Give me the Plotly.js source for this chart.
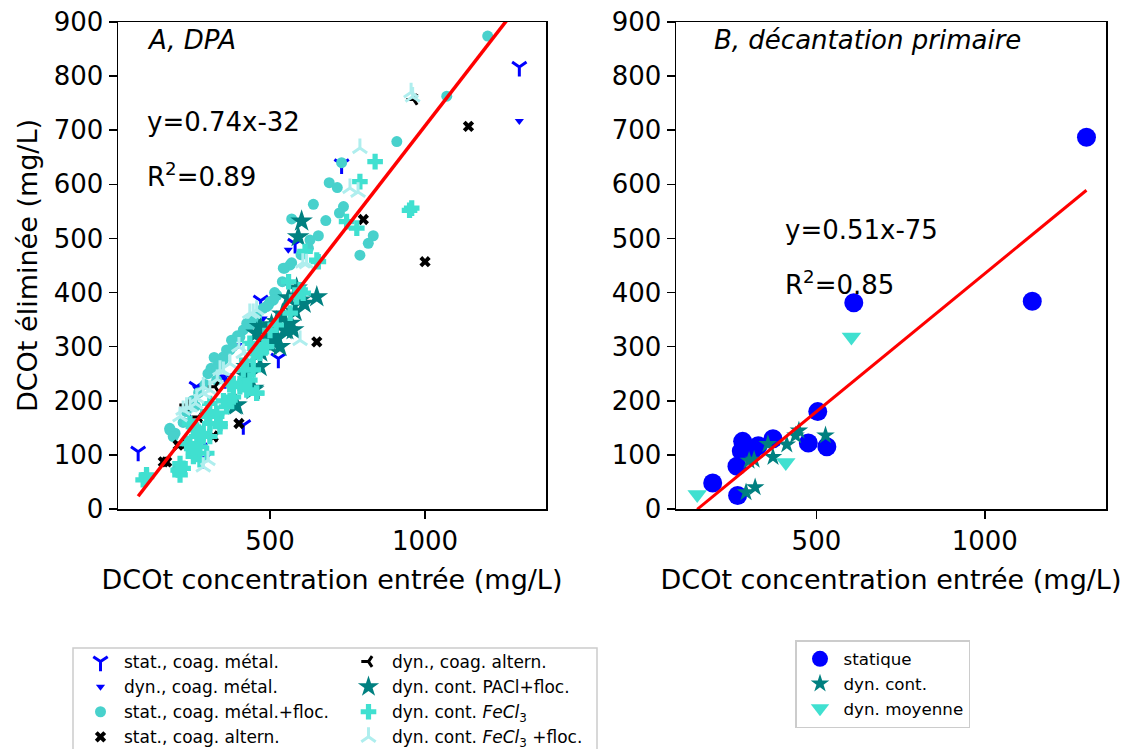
<!DOCTYPE html>
<html>
<head>
<meta charset="utf-8">
<script src="https://cdn.plot.ly/plotly-3.0.1.min.js"></script>
<style>html,body{margin:0;padding:0;background:#fff;}#chart{width:1123px;height:749px;}</style>
</head>
<body>
<div id="chart"></div>
<script>
// ---------- Panel A : DPA ----------
const statMetalX = [75, 283, 274, 414, 527, 470, 581, 731, 1304, 355, 240, 263];
const statMetalY = [106, 92, 112, 155, 278, 385, 490, 637, 817, 240, 180, 226];

const dynMetalX = [1304, 559, 478, 398, 349, 263, 258, 285, 300];
const dynMetalY = [717, 479, 352, 303, 245, 223, 143, 94, 180];

const statFlocX = [1202, 1070, 909, 731, 691, 717, 640, 737, 724, 570, 680, 656, 629, 624, 833, 817, 790, 570, 548, 565, 543, 522, 500, 495, 478, 457, 435, 414, 376, 360, 349, 333, 328, 177, 194, 199, 215, 300, 310, 290, 270, 250, 230, 320, 395, 340, 260, 220, 380, 450, 515, 540, 600, 511, 489, 425, 403, 371, 349, 328, 177, 188];
const statFlocY = [874, 763, 679, 640, 603, 594, 563, 559, 547, 536, 533, 505, 497, 482, 505, 491, 469, 455, 445, 451, 445, 395, 383, 377, 371, 355, 340, 331, 312, 294, 281, 266, 238, 149, 140, 72, 69, 250, 260, 230, 215, 200, 180, 280, 320, 275, 190, 160, 300, 350, 400, 420, 470, 386, 374, 343, 318, 294, 275, 257, 146, 134];

const statAlternX = [1140, 1000, 801, 651, 400, 204, 167, 317, 156];
const statAlternY = [707, 457, 535, 309, 158, 118, 87, 134, 87];

const dynAlternX = [963, 323, 231, 317, 215, 270];
const dynAlternY = [757, 226, 192, 134, 122, 170];

const paclX = [602, 591, 651, 586, 597, 581, 565, 548, 522, 500, 489, 522, 575, 532, 457, 468, 425, 446, 392, 425, 540, 505, 480, 560, 610, 470, 510, 554, 522, 489, 468, 446, 387, 425];
const paclY = [532, 503, 392, 408, 386, 365, 343, 331, 315, 303, 325, 346, 331, 300, 325, 337, 263, 223, 192, 245, 360, 340, 310, 390, 380, 290, 330, 331, 318, 312, 263, 220, 192, 251];

const fecl3X = [839, 790, 957, 950, 747, 780, 613, 656, 651, 607, 425, 446, 414, 457, 425, 382, 360, 328, 306, 285, 264, 274, 296, 253, 220, 210, 102, 91, 435, 468, 403, 339, 253, 306, 231, 242, 520, 560, 500, 480, 370, 350, 300, 296, 328, 264, 242, 285, 339, 371, 403, 435, 457, 446, 468, 489, 382, 306, 210, 204, 274, 253, 586, 565, 597, 102];
const fecl3Y = [642, 605, 556, 552, 531, 519, 476, 457, 460, 399, 275, 281, 257, 214, 220, 207, 189, 171, 158, 140, 134, 115, 103, 97, 75, 63, 60, 54, 306, 294, 232, 158, 152, 134, 121, 158, 340, 420, 330, 300, 230, 200, 180, 171, 177, 146, 121, 134, 152, 201, 226, 238, 214, 257, 288, 300, 232, 195, 84, 72, 91, 106, 392, 362, 405, 63];

const fecl3FlocX = [955, 960, 790, 758, 784, 606, 618, 597, 306, 285, 264, 242, 220, 371, 435, 457, 285, 300, 330, 350, 260, 400, 446, 414, 339, 285, 231, 210];
const fecl3FlocY = [770, 762, 667, 593, 586, 455, 454, 312, 220, 214, 205, 189, 183, 269, 362, 368, 78, 90, 240, 255, 195, 300, 362, 288, 257, 226, 189, 171];

const fitA = {slope: 0.74, intercept: -32};

// ---------- Panel B : décantation primaire ----------
const statiqueX = [1302, 1141, 611, 504, 476, 531, 371, 327, 281, 277, 264, 266, 192, 310];
const statiqueY = [687, 384, 381, 180, 122, 115, 130, 117, 125, 107, 79, 25, 48, 108];

const dynContX = [527, 448, 438, 412, 356, 371, 315, 300, 318, 291];
const dynContY = [136, 145, 136, 119, 120, 96, 91, 89, 40, 31];

const dynMoyX = [604, 409, 146];
const dynMoyY = [318, 86, 27];

const fitB = {slope: 0.51, intercept: -75};

// ---------- texts ----------
const xTitle = 'DCOt concentration entrée (mg/L)';
const yTitle = 'DCOt éliminée (mg/L)';
const yTicks = [0, 100, 200, 300, 400, 500, 600, 700, 800, 900];
const xTicks = [500, 1000];

const FONT = 'DejaVu Sans, Liberation Sans, sans-serif';

function fitLine(xsList, fit) {
  const all = [].concat(...xsList);
  const xmin = Math.min(...all), xmax = Math.max(...all);
  return {x: [xmin, xmax], y: [fit.slope * xmin + fit.intercept, fit.slope * xmax + fit.intercept]};
}

function sym(x, y, name, symbol, color, size, legend, xa, ya, lineOnly) {
  const m = {symbol: symbol, size: size, color: color};
  if (lineOnly) { m.line = {color: color, width: 3}; }
  else { m.line = {width: 0}; }
  return {type: 'scatter', mode: 'markers', x: x, y: y, name: name, marker: m,
          legend: legend, xaxis: xa, yaxis: ya, cliponaxis: true};
}

const lA = fitLine([statMetalX, dynMetalX, statFlocX, statAlternX, dynAlternX, paclX, fecl3X, fecl3FlocX], fitA);
const lB = fitLine([statiqueX, dynContX, dynMoyX], fitB);

const traces = [
  sym(statMetalX, statMetalY, 'stat., coag. métal.', 'y-down', '#0000ff', 12, 'legend', 'x', 'y', true),
  sym(dynMetalX, dynMetalY, 'dyn., coag. métal.', 'triangle-down', '#0000ff', 8, 'legend', 'x', 'y', false),
  sym(statFlocX, statFlocY, 'stat., coag. métal.+floc.', 'circle', '#48d1cc', 11, 'legend', 'x', 'y', false),
  sym(statAlternX, statAlternY, 'stat., coag. altern.', 'x', '#000000', 10, 'legend', 'x', 'y', false),
  sym(dynAlternX, dynAlternY, 'dyn., coag. altern.', 'y-left', '#000000', 9, 'legend2', 'x', 'y', true),
  sym(paclX, paclY, 'dyn. cont. PACl+floc.', 'star', '#008080', 17, 'legend2', 'x', 'y', false),
  sym(fecl3X, fecl3Y, 'dyn. cont. <i>FeCl</i><sub>3</sub>', 'cross', '#40e0d0', 13, 'legend2', 'x', 'y', false),
  sym(fecl3FlocX, fecl3FlocY, 'dyn. cont. <i>FeCl</i><sub>3</sub> +floc.', 'y-up', '#afeeee', 12, 'legend2', 'x', 'y', true),
  {type: 'scatter', mode: 'lines', x: lA.x, y: lA.y, line: {color: '#ff0000', width: 3.5}, showlegend: false, xaxis: 'x', yaxis: 'y', hoverinfo: 'skip'},
  sym(statiqueX, statiqueY, 'statique', 'circle', '#0000ff', 19, 'legend3', 'x2', 'y2', false),
  sym(dynContX, dynContY, 'dyn. cont.', 'star', '#008080', 14, 'legend3', 'x2', 'y2', false),
  sym(dynMoyX, dynMoyY, 'dyn. moyenne', 'triangle-down', '#40e0d0', 17, 'legend3', 'x2', 'y2', false),
  {type: 'scatter', mode: 'lines', x: lB.x, y: lB.y, line: {color: '#ff0000', width: 3}, showlegend: false, xaxis: 'x2', yaxis: 'y2', hoverinfo: 'skip'}
];

const axBase = {
  showline: true, mirror: true, linecolor: '#000', linewidth: 1.5,
  ticks: 'outside', ticklen: 8, tickwidth: 1.5, tickcolor: '#000',
  showgrid: false, zeroline: false, automargin: false,
  tickfont: {family: FONT, size: 26, color: '#000'}
};
const yDom = [1 - 509 / 749, 1 - 22 / 749];
const titleFont = {family: FONT, size: 27, color: '#000'};

const layout = {
  width: 1123, height: 749,
  margin: {l: 0, r: 0, t: 0, b: 0, pad: 0, autoexpand: false},
  paper_bgcolor: '#fff', plot_bgcolor: '#fff',
  font: {family: FONT, color: '#000'},
  xaxis: Object.assign({}, axBase, {domain: [118 / 1123, 546 / 1123], range: [10, 1390], tickvals: xTicks, anchor: 'y',
    title: {text: xTitle, font: titleFont, standoff: 15}}),
  yaxis: Object.assign({}, axBase, {domain: yDom, range: [0, 900], tickvals: yTicks, anchor: 'x',
    title: {text: yTitle, font: titleFont, standoff: 8}}),
  xaxis2: Object.assign({}, axBase, {domain: [676 / 1123, 1106 / 1123], range: [83, 1360], tickvals: xTicks, anchor: 'y2',
    title: {text: xTitle, font: titleFont, standoff: 15}}),
  yaxis2: Object.assign({}, axBase, {domain: yDom, range: [0, 900], tickvals: yTicks, anchor: 'x2'}),
  showlegend: true,
  legend: {x: 77 / 1123, y: 1 - 644 / 749, xanchor: 'left', yanchor: 'top', bgcolor: 'rgba(0,0,0,0)', borderwidth: 0,
    font: {family: FONT, size: 17, color: '#000'}, itemwidth: 37, tracegroupgap: 0},
  legend2: {x: 345 / 1123, y: 1 - 644 / 749, xanchor: 'left', yanchor: 'top', bgcolor: 'rgba(0,0,0,0)', borderwidth: 0,
    font: {family: FONT, size: 17, color: '#000'}, itemwidth: 37, tracegroupgap: 0},
  legend3: {x: 795 / 1123, y: 1 - 640 / 749, xanchor: 'left', yanchor: 'top', bgcolor: '#fff', bordercolor: '#cccccc', borderwidth: 1.5,
    font: {family: FONT, size: 16.7, color: '#000'}, itemwidth: 37, tracegroupgap: 0},
  shapes: [
    {type: 'rect', xref: 'paper', yref: 'paper', x0: 73 / 1123, x1: 597 / 1123, y0: -0.05, y1: 1 - 648 / 749,
     line: {color: '#cccccc', width: 1.5}, fillcolor: 'rgba(0,0,0,0)', layer: 'below'}
  ],
  annotations: [
    {xref: 'x domain', yref: 'y domain', x: 0.063, y: 0.963, xanchor: 'left', yanchor: 'middle', showarrow: false,
     text: '<i>A, DPA</i>', font: {family: FONT, size: 26, color: '#000'}},
    {xref: 'x domain', yref: 'y domain', x: 0.063, y: 0.795, xanchor: 'left', yanchor: 'middle', showarrow: false,
     text: 'y=0.74x-32', font: {family: FONT, size: 26, color: '#000'}},
    {xref: 'x domain', yref: 'y domain', x: 0.063, y: 0.686, xanchor: 'left', yanchor: 'middle', showarrow: false,
     text: 'R<sup>2</sup>=0.89', font: {family: FONT, size: 26, color: '#000'}},
    {xref: 'x2 domain', yref: 'y2 domain', x: 0.084, y: 0.963, xanchor: 'left', yanchor: 'middle', showarrow: false,
     text: '<i>B, décantation primaire</i>', font: {family: FONT, size: 26, color: '#000'}},
    {xref: 'x2 domain', yref: 'y2 domain', x: 0.249, y: 0.573, xanchor: 'left', yanchor: 'middle', showarrow: false,
     text: 'y=0.51x-75', font: {family: FONT, size: 26, color: '#000'}},
    {xref: 'x2 domain', yref: 'y2 domain', x: 0.249, y: 0.464, xanchor: 'left', yanchor: 'middle', showarrow: false,
     text: 'R<sup>2</sup>=0.85', font: {family: FONT, size: 26, color: '#000'}}
  ]
};

Plotly.newPlot('chart', traces, layout, {staticPlot: true, displayModeBar: false});
</script>
</body>
</html>
